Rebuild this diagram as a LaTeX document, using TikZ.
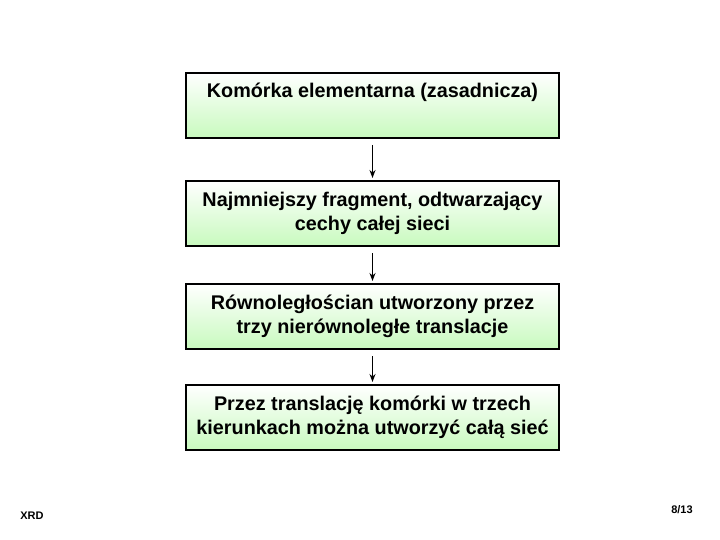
\documentclass[tikz,border=0pt]{standalone}
\usepackage{fontspec}
\setmainfont{Liberation Sans}
\usetikzlibrary{arrows.meta}
\definecolor{lgreen}{RGB}{200,250,190}
\begin{document}
\begin{tikzpicture}[x=1pt,y=-1pt,
  box/.style={draw=black,line width=2pt,minimum width=373pt,minimum height=65pt,
    top color=white,bottom color=lgreen,align=center,
    font=\bfseries\fontsize{19.8}{24}\selectfont,inner sep=2pt},
  conn/.style={-{Stealth[length=8pt,width=6pt]},line width=1.3pt}]
\useasboundingbox (0,0) rectangle (720,540);
\node[box,anchor=north west,text depth=30pt] (b1) at (185,72) {Komórka elementarna (zasadnicza)};
\node[box,anchor=north west] (b2) at (185,180) {Najmniejszy fragment, odtwarzający\\cechy całej sieci};
\node[box,anchor=north west] (b3) at (185,283) {Równoległościan utworzony przez\\trzy nierównoległe translacje};
\node[box,anchor=north west] (b4) at (185,384) {Przez translację komórki w trzech\\kierunkach można utworzyć całą sieć};
\draw[conn] ([yshift=-6pt]b1.south) -- ([yshift=2pt]b2.north);
\draw[conn] ([yshift=-6pt]b2.south) -- ([yshift=2pt]b3.north);
\draw[conn] ([yshift=-6pt]b3.south) -- ([yshift=2pt]b4.north);
\node[font=\bfseries\fontsize{11}{13}\selectfont] (xrd) at (32,516) {XRD};
\node[font=\bfseries\fontsize{11}{13}\selectfont] (pg) at (682,510) {8/13};
\end{tikzpicture}
\end{document}
